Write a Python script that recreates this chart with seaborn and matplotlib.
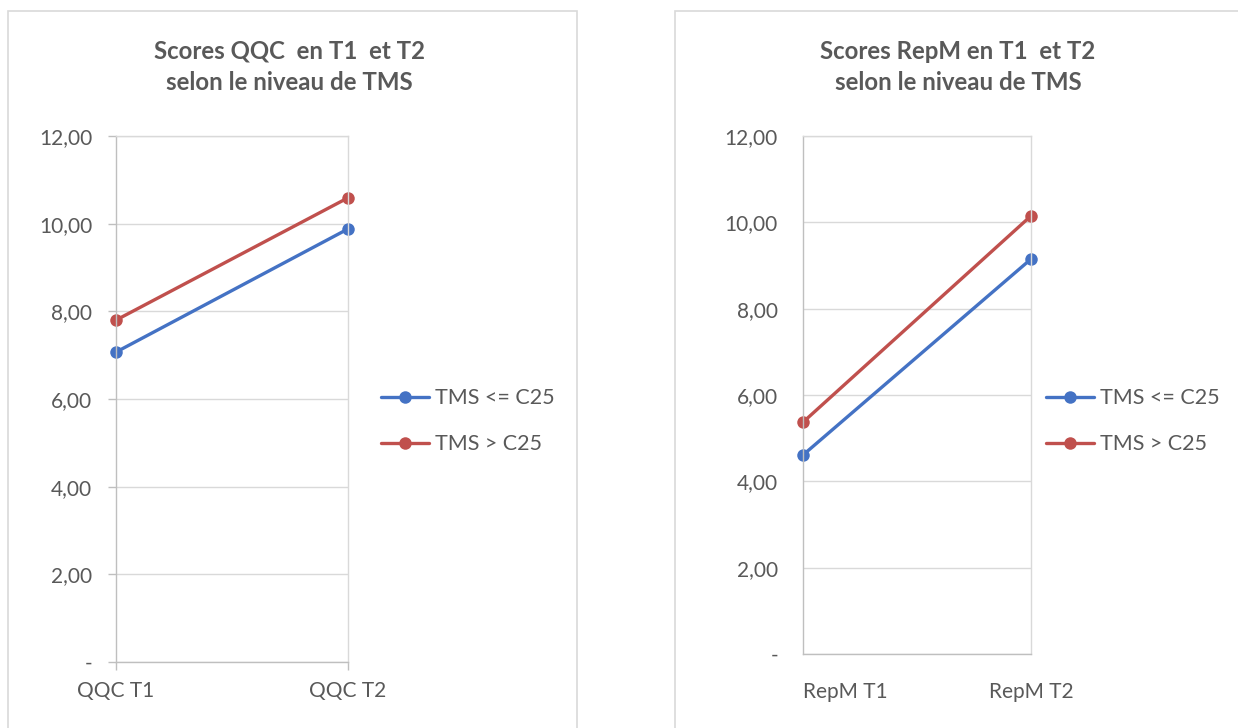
import pandas as pd
import numpy as np
import matplotlib.pyplot as plt
import seaborn as sns
from matplotlib.patches import Rectangle
from matplotlib.ticker import FuncFormatter

# Data
groups = ['TMS <= C25', 'TMS > C25']
qqc_times = ['QQC T1', 'QQC T2']
qqc_low = [7.07, 9.88]
qqc_high = [7.80, 10.59]
repm_times = ['RepM T1', 'RepM T2']
repm_low = [4.61, 9.15]
repm_high = [5.37, 10.15]
y_ticks = [0, 2, 4, 6, 8, 10, 12]

colors = ['#4472C4', '#C0504D']
text_col = '#595959'
grid_col = '#D9D9D9'

sns.set_theme(style='white')
plt.rcParams['font.family'] = ['Lato', 'DejaVu Sans']


def make_df(times, low, high):
    rows = []
    for t, v in zip(times, low):
        rows.append({'Temps': t, 'Score': v, 'Groupe': groups[0]})
    for t, v in zip(times, high):
        rows.append({'Temps': t, 'Score': v, 'Groupe': groups[1]})
    return pd.DataFrame(rows)


def fmt(v, pos):
    if v == 0:
        return '-'
    return f'{v:.2f}'.replace('.', ',')


fig = plt.figure(figsize=(12.38, 7.28), dpi=100)

# chart frames (Excel-like boxes)
fig.patches.append(Rectangle((8 / 1238, -0.1), 569 / 1238, 1.1 - 11 / 728,
                             transform=fig.transFigure, fill=False,
                             edgecolor=grid_col, lw=1.2))
fig.patches.append(Rectangle((675 / 1238, -0.1), 0.5, 1.1 - 11 / 728,
                             transform=fig.transFigure, fill=False,
                             edgecolor=grid_col, lw=1.2))

panels = [
    dict(df=make_df(qqc_times, qqc_low, qqc_high),
         rect=[116 / 1238, 66 / 728, 232 / 1238, 526 / 728],
         title='Scores QQC  en T1  et T2\nselon le niveau de TMS',
         tx=289 / 1238, leg=(362 / 1238, 1 - 369 / 728), ticks=True),
    dict(df=make_df(repm_times, repm_low, repm_high),
         rect=[803 / 1238, 74 / 728, 228 / 1238, 518 / 728],
         title='Scores RepM en T1  et T2\nselon le niveau de TMS',
         tx=958 / 1238, leg=(1027 / 1238, 1 - 369 / 728), ticks=False),
]

for p in panels:
    ax = fig.add_axes(p['rect'])
    sns.lineplot(data=p['df'], x='Temps', y='Score', hue='Groupe',
                 palette=colors, marker='o', markersize=9, linewidth=2.4,
                 markeredgewidth=0, ax=ax, sort=False)
    for ln in ax.lines:
        ln.set_clip_on(False)
    ax.set_xlim(0, 1)
    ax.set_ylim(0, 12)
    ax.set_yticks(y_ticks)
    ax.yaxis.set_major_formatter(FuncFormatter(fmt))
    ax.grid(axis='y', color=grid_col, lw=1)
    ax.set_xlabel('')
    ax.set_ylabel('')
    for s in ax.spines.values():
        s.set_color(grid_col)
        s.set_linewidth(1)
    ax.spines['left'].set_color('#BFBFBF')
    ax.spines['bottom'].set_color('#BFBFBF')
    if p['ticks']:
        ax.tick_params(axis='both', length=6, color='#BFBFBF', width=1,
                       direction='out', left=True, bottom=True)
        ax.tick_params(axis='y', pad=11)
        ax.tick_params(axis='x', pad=8)
    else:
        ax.tick_params(axis='both', length=0)
        ax.tick_params(axis='y', pad=18)
        ax.tick_params(axis='x', pad=20)
        xl = ax.get_xticklabels()
        xl[0].set_ha('left')
        xl[1].set_ha('center')
    ax.tick_params(axis='both', labelsize=15, labelcolor=text_col)

    handles, labels = ax.get_legend_handles_labels()
    ax.legend(handles, labels, loc='upper left', bbox_to_anchor=p['leg'],
              bbox_transform=fig.transFigure, frameon=False, fontsize=15.5,
              labelcolor=text_col, handlelength=2.2, handletextpad=0.3,
              labelspacing=1.2)

    fig.text(p['tx'], 1 - 67 / 728, p['title'], ha='center', va='center',
             fontsize=17.3, fontweight='bold', color=text_col, linespacing=1.45)

fig.savefig('out.png', dpi=100, facecolor='white')
